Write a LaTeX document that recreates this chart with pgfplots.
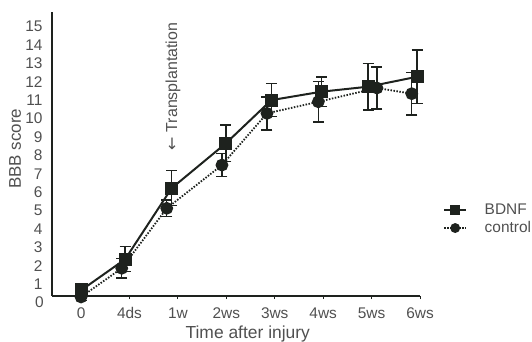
\documentclass[border=0pt]{standalone}
\usepackage{pgfplots}
\pgfplotsset{compat=1.18}
\usepackage{fontspec}
\setmainfont{Liberation Sans}
\newfontfamily\dejavu{DejaVu Sans}
\definecolor{ink}{HTML}{1E221E}
\definecolor{txt}{HTML}{505050}
\begin{document}
\begin{tikzpicture}
\path[use as bounding box] (0bp,0bp) rectangle (532bp,342bp);
\begin{axis}[
  at={(52bp,46bp)}, anchor=south west,
  scale only axis, width=368bp, height=284bp,
  xmin=-0.6, xmax=7, ymin=0.353, ymax=15.79,
  clip=false,
  axis lines=left,
  axis line style={-, line width=1.8bp, color=ink},
  xtick={0,...,7}, xticklabels={0,4ds,1w,2ws,3ws,4ws,5ws,6ws},
  ytick={1,...,15},
  tick align=outside, major tick length=3bp,
  x tick style={line width=1bp, color=ink},
  y tick style={draw=none},
  tick label style={font=\fontsize{15.5}{15.5}\selectfont, text=txt},
  yticklabel style={xshift=-3bp},
  xticklabel style={yshift=-5bp},
  /pgf/number format/assume math mode=true,
  xlabel={Time after injury},
  xlabel style={at={(axis description cs:0.532,-0.1496)}, anchor=base, font=\fontsize{17.5}{17.5}\selectfont, text=txt},
  ylabel={BBB score},
  ylabel style={at={(axis description cs:-0.1005,0.518)}, anchor=center, font=\fontsize{17}{17}\selectfont, text=txt},
  legend style={at={(axis description cs:1.0625,0.271)}, anchor=west, draw=none, fill=none, inner sep=0pt,
    font=\fontsize{15.5}{15.5}\selectfont, text=txt, row sep=1bp,
    nodes={inner sep=1.5bp, text height=11bp, text depth=3bp}},
  legend cell align=left,
  legend image code/.code={
    \draw[mark repeat=2,mark phase=2,#1, mark size=4bp] plot coordinates {(0bp,0bp) (11bp,0bp) (22bp,0bp)};
    \path (38bp,0bp);
  },
]
\addplot[ink, line width=2bp, mark=square*, mark size=5.5bp, mark options={solid},
  error bars/.cd, y dir=both, y explicit,
  error bar style={line width=1.4bp, solid},
  error mark options={rotate=90, mark size=5.5bp, line width=1.4bp}]
  table[x=x, y=y, y error=e] {
x y e
0.01 0.68 0.30
0.91 2.35 0.68
1.87 6.21 0.95
2.99 8.65 1.00
3.93 11.00 0.90
4.97 11.46 0.80
5.93 11.73 1.27
6.94 12.27 1.45
};
\addlegendentry{BDNF}
\addplot[ink, line width=1.8bp, dash pattern=on 1.5bp off 1.5bp, mark=*, mark size=5.5bp, mark options={solid},
  error bars/.cd, y dir=both, y explicit,
  error bar style={line width=1.4bp, solid},
  error mark options={rotate=90, mark size=5.5bp, line width=1.4bp, solid}]
  table[x=x, y=y, y error=e] {
x y e
0.00 0.30 0.20
0.84 1.86 0.53
1.77 5.12 0.46
2.91 7.47 0.63
3.84 10.28 0.90
4.90 10.91 1.10
6.11 11.66 1.15
6.83 11.35 1.15
};
\addlegendentry{control}
\node[anchor=east, inner sep=5bp, xshift=-3bp, font=\fontsize{15.5}{15.5}\selectfont, text=txt] at (axis cs:-0.6,0) {0};
\node[rotate=90, font=\fontsize{16}{16}\selectfont, text=txt] at (axis cs:1.9,11.74) {{\dejavu ←} Transplantation};
\end{axis}
\end{tikzpicture}
\end{document}
